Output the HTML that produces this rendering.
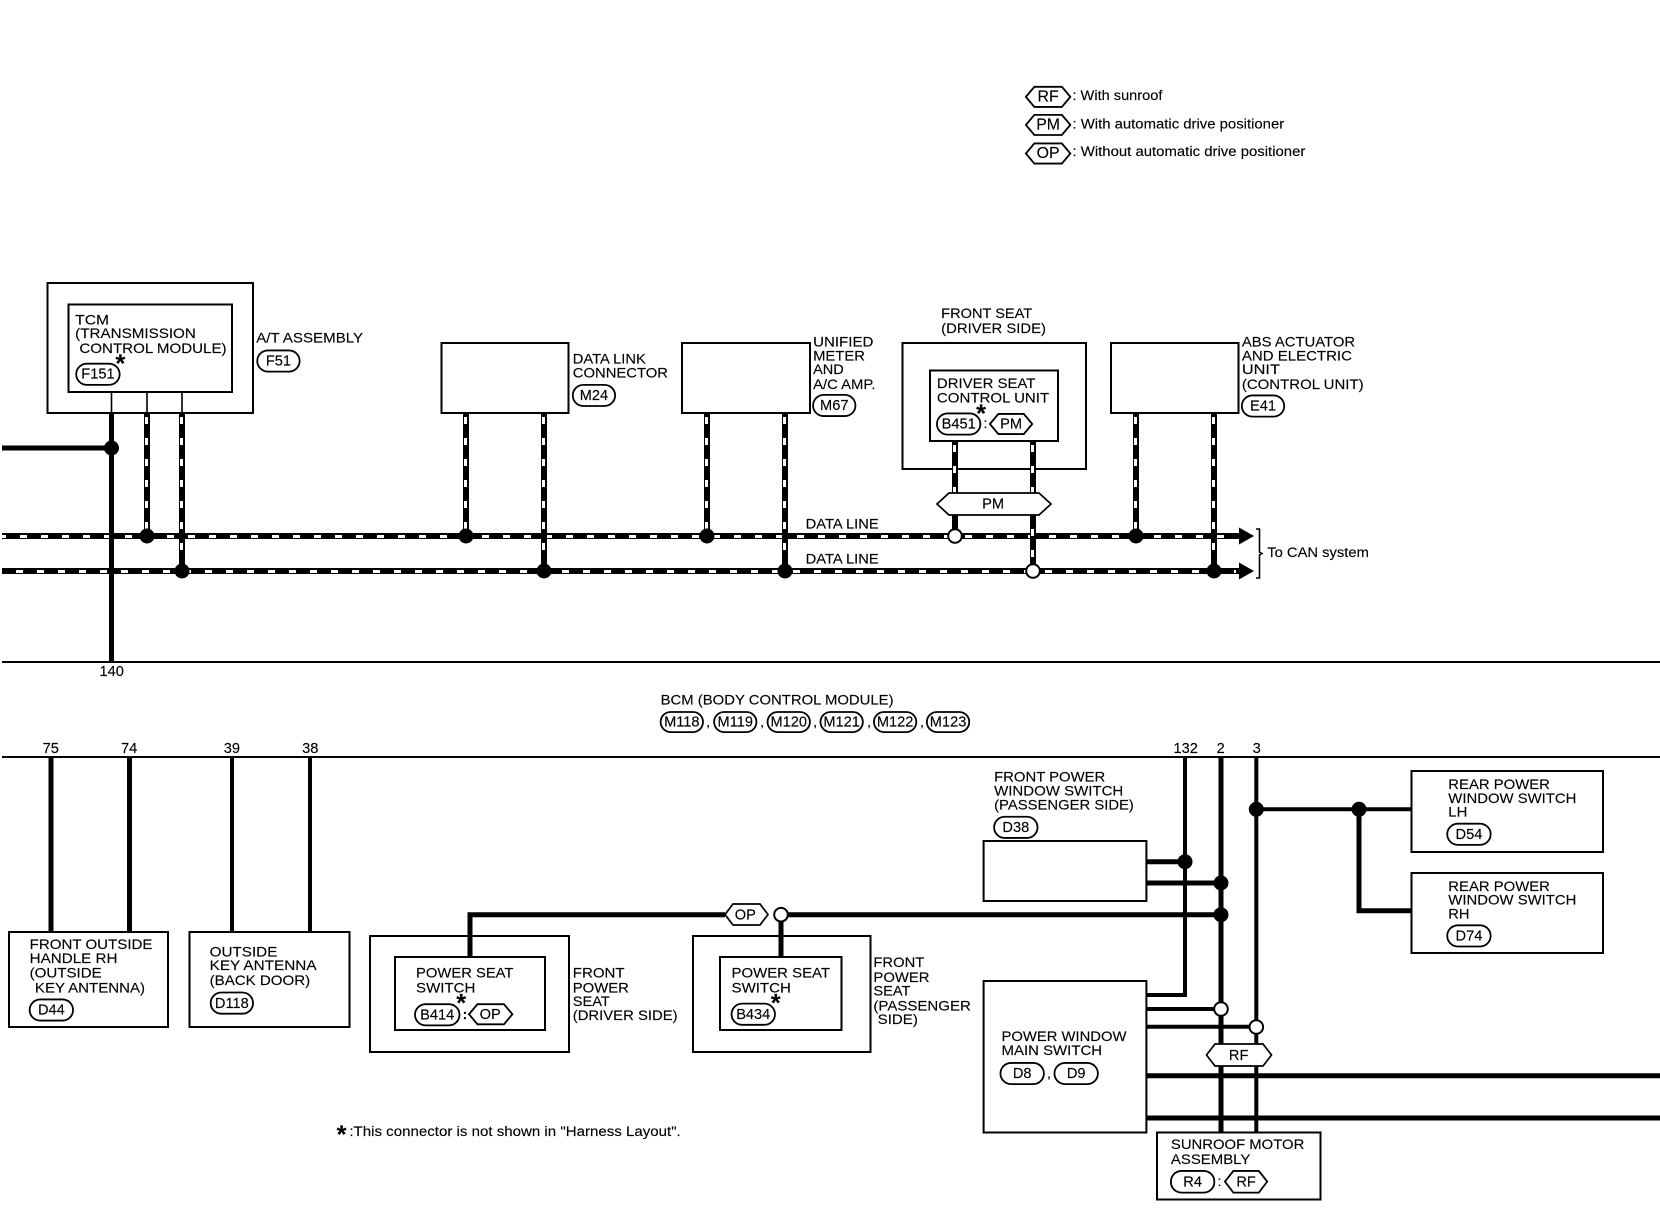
<!DOCTYPE html>
<html><head><meta charset="utf-8"><style>
html,body{margin:0;padding:0;background:#fff;width:1660px;height:1216px;overflow:hidden}
svg{display:block}
text{font-family:"Liberation Sans",sans-serif;font-size:13.3px;fill:#000;stroke:#000;stroke-width:.12;transform:translateY(-.6px)}
.c{text-anchor:middle;font-size:13.8px}
.p{fill:#fff;stroke:#000;stroke-width:1.7}
.b{fill:#fff;stroke:#000;stroke-width:2}
.n{fill:none;stroke:#000;stroke-width:2}
.w{fill:none;stroke:#000;stroke-width:5}
.r{fill:none;stroke:#000;stroke-width:6}
.t{fill:none;stroke:#000;stroke-width:4}
.k{fill:none;stroke:#fff;stroke-width:3;stroke-dasharray:7 14}
.d{fill:#000}
.o{fill:#fff;stroke:#000;stroke-width:2}
.s{font-size:24px;font-weight:bold}
</style></head><body>
<svg width="1660" height="1216" viewBox="0 0 1660 1216" xmlns="http://www.w3.org/2000/svg">
<!-- boxes top -->
<rect class="b" x="47.5" y="283" width="205.5" height="130"/>
<rect class="b" x="68.5" y="304.5" width="163.5" height="87.5"/>
<rect class="b" x="441.5" y="343" width="127" height="70"/>
<rect class="b" x="682" y="343" width="128" height="70"/>
<rect class="b" x="902.5" y="343" width="183.5" height="126"/>
<rect class="b" x="930" y="370.5" width="128" height="70.5"/>
<rect class="b" x="1111" y="343" width="127.5" height="70"/>
<!-- bus lines -->
<path class="n" d="M2 662H1660M2 757H1660" />
<path class="r" d="M2 536H1241M2 571H1241"/>
<path class="k" d="M-1 536.5H1236M-5 571.5H1236"/>
<path class="d" d="M1239 527.5L1254 536L1239 544.5ZM1239 562.5L1254 571L1239 579.5Z"/>
<path fill="none" stroke="#000" stroke-width="1.6" d="M1256 529H1259.5V552L1262 553.5L1259.5 555V578H1256"/>
<!-- TCM wires -->
<path fill="none" stroke="#000" stroke-width="1.6" d="M111.5 392V413M147 392V413M182 392V413"/>
<path class="w" d="M111.5 413V662M2 448H111.5"/>
<path class="r" d="M147 413V536M182 413V571M466 413V536M544 413V571M707 413V536M785 413V571M955 441V536M1033 441V571M1136 413V536M1214 413V571"/>
<path class="k" d="M146.5 417V530M181.5 417V565M465.5 417V530M543.5 417V565M706.5 417V530M784.5 417V565M954.5 445V530M1032.5 445V565M1135.5 417V530M1213.5 417V565"/>
<g class="d">
<circle cx="111.5" cy="448" r="7.5"/><circle cx="147" cy="536" r="7.5"/><circle cx="182" cy="571" r="7.5"/>
<circle cx="466" cy="536" r="7.5"/><circle cx="544" cy="571" r="7.5"/><circle cx="707" cy="536" r="7.5"/><circle cx="785" cy="571" r="7.5"/>
<circle cx="1136" cy="536" r="7.5"/><circle cx="1214" cy="571" r="7.5"/>
</g>
<circle class="o" cx="955" cy="536" r="6.8"/><circle class="o" cx="1033" cy="571" r="6.8"/>
<polygon class="p" points="937,504 949,493 1039,493 1051,504 1039,515 949,515"/>
<!-- lower wires -->
<path class="w" d="M51 757V932M129.5 757V932"/>
<path class="t" d="M232 757V932M310 757V932"/>
<rect class="b" x="9" y="932" width="159" height="95"/>
<rect class="b" x="189.5" y="932" width="160" height="95"/>
<rect class="b" x="370" y="936" width="199" height="116"/>
<rect class="b" x="395" y="957" width="150" height="73"/>
<rect class="b" x="693" y="936" width="177.5" height="116"/>
<rect class="n" x="720" y="957" width="121.5" height="73"/>
<path class="w" d="M470 957V914.7H725M775 914.7H1221M781 914.7V957"/>
<polygon class="p" points="725,914.5 733,904 760,904 768,914.5 760,925 733,925"/>
<circle class="o" cx="781" cy="914.7" r="6.8"/>
<rect class="b" x="983.6" y="841" width="162.8" height="60"/>
<rect class="b" x="983.6" y="981" width="162.8" height="151.5"/>
<path class="w" d="M1146 861.7H1185M1146 883H1221"/>
<path class="t" d="M1185 757V995H1146"/>
<path class="w" d="M1221 757V1132"/>
<path class="t" d="M1256.3 757V1132M1256.3 809.3H1411.5"/>
<path class="w" d="M1359 809.3V910.7H1411.5"/>
<path class="t" d="M1146 1009H1221M1146 1026.7H1256"/>
<path class="w" d="M1146 1075.7H1660M1146 1118H1660"/>
<g class="d">
<circle cx="1185" cy="861.7" r="7.5"/><circle cx="1221" cy="883" r="7.5"/><circle cx="1221" cy="914.7" r="7.5"/>
<circle cx="1256.3" cy="809.3" r="7.5"/><circle cx="1359" cy="809.3" r="7.5"/>
</g>
<circle class="o" cx="1221" cy="1009" r="6.8"/><circle class="o" cx="1256.3" cy="1027" r="6.8"/>
<polygon class="p" points="1206.5,1055 1215,1044 1263,1044 1271.5,1055 1263,1066 1215,1066"/>
<rect class="b" x="1157" y="1132.5" width="163.5" height="67"/>
<rect class="b" x="1411.5" y="771" width="191.5" height="81"/>
<rect class="n" x="1411.5" y="873" width="191.5" height="80"/>
<g transform="scale(1.0587)">
<!-- legend -->
<polygon class="p" points="969,91.5 977,82 1003,82 1011,91.5 1003,101 977,101"/><text class="c" x="990" y="96.5" style="font-size:15px">RF</text>
<polygon class="p" points="969,118 977,108.5 1003,108.5 1011,118 1003,127.5 977,127.5"/><text class="c" x="990" y="123" style="font-size:15px">PM</text>
<polygon class="p" points="969,145 977,135.5 1003,135.5 1011,145 1003,154.5 977,154.5"/><text class="c" x="990" y="150" style="font-size:15px">OP</text>
<text x="1013" y="95" textLength="85" lengthAdjust="spacingAndGlyphs">: With sunroof</text>
<text x="1013" y="122" textLength="200" lengthAdjust="spacingAndGlyphs">: With automatic drive positioner</text>
<text x="1013" y="148" textLength="220" lengthAdjust="spacingAndGlyphs">: Without automatic drive positioner</text>
<!-- TCM -->
<text x="71" y="307" textLength="32" lengthAdjust="spacingAndGlyphs">TCM</text>
<text x="71" y="320" textLength="114" lengthAdjust="spacingAndGlyphs">(TRANSMISSION</text>
<text x="75" y="334" textLength="139" lengthAdjust="spacingAndGlyphs">CONTROL MODULE)</text>
<rect class="p" x="72" y="343.5" width="41" height="20" rx="10"/><text class="c" x="92.5" y="358">F151</text>
<text class="s" x="109" y="352">*</text>
<text x="242" y="324" textLength="101" lengthAdjust="spacingAndGlyphs">A/T ASSEMBLY</text>
<rect class="p" x="243" y="331" width="40" height="20" rx="10"/><text class="c" x="263" y="346">F51</text>
<text x="541" y="344" textLength="69" lengthAdjust="spacingAndGlyphs">DATA LINK</text>
<text x="541" y="357" textLength="90" lengthAdjust="spacingAndGlyphs">CONNECTOR</text>
<rect class="p" x="541" y="363.5" width="40" height="20" rx="10"/><text class="c" x="561" y="378.5">M24</text>
<text x="768" y="328" textLength="57" lengthAdjust="spacingAndGlyphs">UNIFIED</text>
<text x="768" y="341" textLength="49" lengthAdjust="spacingAndGlyphs">METER</text>
<text x="768" y="354" textLength="29" lengthAdjust="spacingAndGlyphs">AND</text>
<text x="768" y="368" textLength="59" lengthAdjust="spacingAndGlyphs">A/C AMP.</text>
<rect class="p" x="768" y="373" width="40" height="20" rx="10"/><text class="c" x="788" y="388">M67</text>
<text x="889" y="301" textLength="86" lengthAdjust="spacingAndGlyphs">FRONT SEAT</text>
<text x="889" y="315" textLength="99" lengthAdjust="spacingAndGlyphs">(DRIVER SIDE)</text>
<text x="885" y="367" textLength="93" lengthAdjust="spacingAndGlyphs">DRIVER SEAT</text>
<text x="885" y="381" textLength="106" lengthAdjust="spacingAndGlyphs">CONTROL UNIT</text>
<rect class="p" x="885" y="390.5" width="41" height="20" rx="10"/><text class="c" x="905.5" y="405.5">B451</text>
<text class="s" x="922" y="399">*</text>
<text x="929" y="405">:</text>
<polygon class="p" points="935,400.5 943,391 967,391 975,400.5 967,410 943,410"/><text class="c" x="955" y="405.5">PM</text>
<text x="1173" y="328" textLength="107" lengthAdjust="spacingAndGlyphs">ABS ACTUATOR</text>
<text x="1173" y="341" textLength="104" lengthAdjust="spacingAndGlyphs">AND ELECTRIC</text>
<text x="1173" y="354" textLength="36" lengthAdjust="spacingAndGlyphs">UNIT</text>
<text x="1173" y="368" textLength="115" lengthAdjust="spacingAndGlyphs">(CONTROL UNIT)</text>
<rect class="p" x="1173" y="373.5" width="40" height="20" rx="10"/><text class="c" x="1193" y="388.5">E41</text>
<text class="c" x="938" y="481">PM</text>
<text x="761" y="500" textLength="69" lengthAdjust="spacingAndGlyphs">DATA LINE</text>
<text x="761" y="533" textLength="69" lengthAdjust="spacingAndGlyphs">DATA LINE</text>
<text x="1197" y="526.5" textLength="96" lengthAdjust="spacingAndGlyphs">To CAN system</text>
<text class="c" x="105.5" y="639">140</text>
<!-- BCM -->
<text x="624" y="666" textLength="220" lengthAdjust="spacingAndGlyphs">BCM (BODY CONTROL MODULE)</text>
<rect class="p" x="624" y="672.5" width="40" height="19" rx="9.5"/><text class="c" x="644" y="687">M118</text>
<text x="667" y="687">,</text>
<rect class="p" x="674.5" y="672.5" width="40" height="19" rx="9.5"/><text class="c" x="694.5" y="687">M119</text>
<text x="718" y="687">,</text>
<rect class="p" x="725" y="672.5" width="40" height="19" rx="9.5"/><text class="c" x="745" y="687">M120</text>
<text x="768" y="687">,</text>
<rect class="p" x="775" y="672.5" width="40" height="19" rx="9.5"/><text class="c" x="795" y="687">M121</text>
<text x="819" y="687">,</text>
<rect class="p" x="825.5" y="672.5" width="40" height="19" rx="9.5"/><text class="c" x="845.5" y="687">M122</text>
<text x="869" y="687">,</text>
<rect class="p" x="875.5" y="672.5" width="40" height="19" rx="9.5"/><text class="c" x="895.5" y="687">M123</text>
<text class="c" x="48" y="712">75</text>
<text class="c" x="122" y="712">74</text>
<text class="c" x="219" y="712">39</text>
<text class="c" x="293" y="712">38</text>
<text class="c" x="1120" y="712">132</text>
<text class="c" x="1153" y="712">2</text>
<text class="c" x="1187" y="712">3</text>
<!-- lower left -->
<text x="28" y="897" textLength="116" lengthAdjust="spacingAndGlyphs">FRONT OUTSIDE</text>
<text x="28" y="910" textLength="83" lengthAdjust="spacingAndGlyphs">HANDLE RH</text>
<text x="28" y="924" textLength="68" lengthAdjust="spacingAndGlyphs">(OUTSIDE</text>
<text x="33" y="938" textLength="104" lengthAdjust="spacingAndGlyphs">KEY ANTENNA)</text>
<rect class="p" x="28" y="944" width="41" height="20" rx="10"/><text class="c" x="48.5" y="959">D44</text>
<text x="198" y="904" textLength="64" lengthAdjust="spacingAndGlyphs">OUTSIDE</text>
<text x="198" y="917" textLength="101" lengthAdjust="spacingAndGlyphs">KEY ANTENNA</text>
<text x="198" y="931" textLength="95" lengthAdjust="spacingAndGlyphs">(BACK DOOR)</text>
<rect class="p" x="199" y="937.5" width="40" height="20" rx="10"/><text class="c" x="219" y="952.5">D118</text>
<!-- power seat -->
<text x="393" y="924" textLength="92" lengthAdjust="spacingAndGlyphs">POWER SEAT</text>
<text x="393" y="938" textLength="56" lengthAdjust="spacingAndGlyphs">SWITCH</text>
<rect class="p" x="392" y="948.5" width="42" height="20" rx="10"/><text class="c" x="413" y="963.5">B414</text>
<text class="s" x="431" y="956">*</text>
<text x="437" y="963" font-weight="bold">:</text>
<polygon class="p" points="443,958 451,948.5 476,948.5 484,958 476,967.5 451,967.5"/><text class="c" x="463" y="963">OP</text>
<text x="541" y="924" textLength="49" lengthAdjust="spacingAndGlyphs">FRONT</text>
<text x="541" y="938" textLength="53" lengthAdjust="spacingAndGlyphs">POWER</text>
<text x="541" y="951" textLength="35" lengthAdjust="spacingAndGlyphs">SEAT</text>
<text x="541" y="964" textLength="99" lengthAdjust="spacingAndGlyphs">(DRIVER SIDE)</text>
<text x="691" y="924" textLength="93" lengthAdjust="spacingAndGlyphs">POWER SEAT</text>
<text x="691" y="938" textLength="56" lengthAdjust="spacingAndGlyphs">SWITCH</text>
<rect class="p" x="691" y="948" width="41" height="20" rx="10"/><text class="c" x="711.5" y="963">B434</text>
<text class="s" x="728" y="956">*</text>
<text x="825" y="914" textLength="48" lengthAdjust="spacingAndGlyphs">FRONT</text>
<text x="825" y="928" textLength="53" lengthAdjust="spacingAndGlyphs">POWER</text>
<text x="825" y="941" textLength="35" lengthAdjust="spacingAndGlyphs">SEAT</text>
<text x="825" y="955" textLength="92" lengthAdjust="spacingAndGlyphs">(PASSENGER</text>
<text x="829" y="968" textLength="38" lengthAdjust="spacingAndGlyphs">SIDE)</text>
<text class="c" x="704" y="869">OP</text>
<text class="s" x="318" y="1080">*</text>
<text x="330" y="1073.5" textLength="313" lengthAdjust="spacingAndGlyphs">:This connector is not shown in "Harness Layout".</text>
<!-- right -->
<text x="939" y="739" textLength="105" lengthAdjust="spacingAndGlyphs">FRONT POWER</text>
<text x="939" y="752" textLength="122" lengthAdjust="spacingAndGlyphs">WINDOW SWITCH</text>
<text x="939" y="765" textLength="132" lengthAdjust="spacingAndGlyphs">(PASSENGER SIDE)</text>
<rect class="p" x="939" y="771.5" width="41" height="20" rx="10"/><text class="c" x="959.5" y="786.5">D38</text>
<text x="946" y="984" textLength="118" lengthAdjust="spacingAndGlyphs">POWER WINDOW</text>
<text x="946" y="997" textLength="95" lengthAdjust="spacingAndGlyphs">MAIN SWITCH</text>
<rect class="p" x="945" y="1004" width="41" height="20" rx="10"/><text class="c" x="965.5" y="1019">D8</text>
<text x="989" y="1019">,</text>
<rect class="p" x="996" y="1004" width="41" height="20" rx="10"/><text class="c" x="1016.5" y="1019">D9</text>
<text class="c" x="1170" y="1002">RF</text>
<text x="1106" y="1086" textLength="126" lengthAdjust="spacingAndGlyphs">SUNROOF MOTOR</text>
<text x="1106" y="1100" textLength="75" lengthAdjust="spacingAndGlyphs">ASSEMBLY</text>
<rect class="p" x="1106" y="1106" width="41" height="20.5" rx="10"/><text class="c" x="1126.5" y="1121.5">R4</text>
<text x="1150" y="1121">:</text>
<polygon class="p" points="1157,1116 1165,1106 1189,1106 1197,1116 1189,1126.5 1165,1126.5"/><text class="c" x="1177" y="1121.5">RF</text>
<text x="1368" y="746" textLength="96" lengthAdjust="spacingAndGlyphs">REAR POWER</text>
<text x="1368" y="759" textLength="121" lengthAdjust="spacingAndGlyphs">WINDOW SWITCH</text>
<text x="1368" y="772" textLength="18" lengthAdjust="spacingAndGlyphs">LH</text>
<rect class="p" x="1367" y="778" width="41" height="20" rx="10"/><text class="c" x="1387.5" y="793">D54</text>
<text x="1368" y="842" textLength="96" lengthAdjust="spacingAndGlyphs">REAR POWER</text>
<text x="1368" y="855" textLength="121" lengthAdjust="spacingAndGlyphs">WINDOW SWITCH</text>
<text x="1368" y="868" textLength="20" lengthAdjust="spacingAndGlyphs">RH</text>
<rect class="p" x="1367" y="874" width="41" height="20" rx="10"/><text class="c" x="1387.5" y="889">D74</text>
</g>
</svg>
</body></html>
